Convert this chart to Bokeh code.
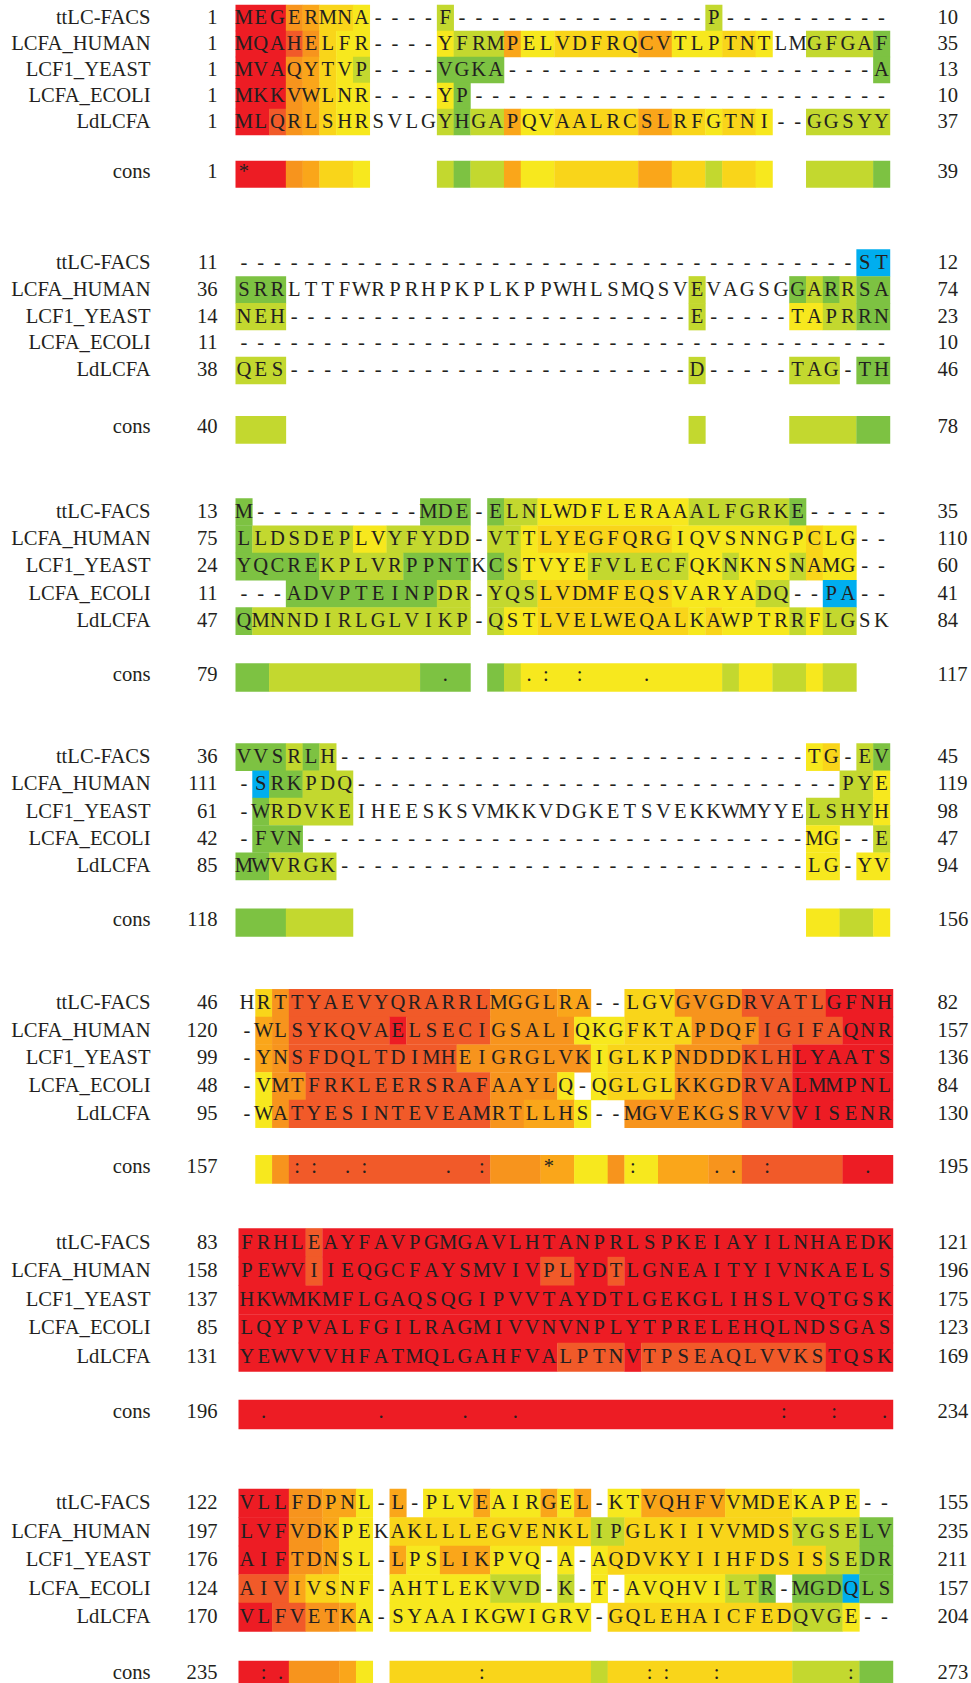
from bokeh.plotting import figure
from bokeh.models import Range1d, ColumnDataSource
from bokeh.core.properties import value
from bokeh.embed import file_html
from bokeh.resources import INLINE

names = ["ttLC-FACS", "LCFA_HUMAN", "LCF1_YEAST", "LCFA_ECOLI", "LdLCFA"]

# ---------------- Block 1 ----------------
b1_seq = [
    "MEGERMNA" + "----" + "F" + "-" * 15 + "P" + "-" * 10,
    "MQAHELFR----YFRMPELVDFRQCVTLPTNTLMGFGAF",
    "MVAQYTVP----VGKA" + "-" * 22 + "A",
    "MKKVWLNR----YP" + "-" * 25,
    "MLQRLSHRSVLGYHGAPQVAALRCSLRFGTNI--GGSYY",
]
b1_col = [
    "99976554" + "...." + "3" + "." * 15 + "3" + "." * 10,
    "99987544" + "...." + "4333" + "6" + "44" + "55555" + "66" + "44" + "4" + "55" + "4" + ".." + "3333" + "2",
    "99976543" + "...." + "2222" + "." * 22 + "2",
    "99976544" + "...." + "42" + "." * 25,
    "99876544" + "...." + "3233" + "6" + "44" + "55555" + "66" + "55" + "4" + "55" + "4" + ".." + "33333",
]
b1_start = [1, 1, 1, 1, 1]
b1_end = [10, 35, 13, 10, 37]
b1_cons_col = "99976554" + "...." + "3233" + "6" + "44" + "55555" + "66" + "55" + "3" + "55" + "4" + ".." + "3333" + "2"
b1_cons_sym = {0: "*"}
b1_cons_num = (1, 39)

# ---------------- Block 2 ----------------
b2_seq = [
    "-" * 37 + "ST",
    "SRRLTTFWRPRHPKPLKPPWHLSMQSVEVAGSGGARRSA",
    "NEH" + "-" * 24 + "E" + "-" * 5 + "TAPRRN",
    "-" * 39,
    "QES" + "-" * 24 + "D" + "-" * 5 + "TAG-TH",
]
b2_col = [
    "." * 37 + "11",
    "222" + "." * 24 + "3" + "." * 5 + "2" + "3" + "2" + "3" + "22",
    "333" + "." * 24 + "3" + "." * 5 + "443322",
    "." * 39,
    "333" + "." * 24 + "3" + "." * 5 + "333.22",
]
b2_start = [11, 36, 14, 11, 38]
b2_end = [12, 74, 23, 10, 46]
b2_cons_col = "333" + "." * 24 + "3" + "." * 5 + "3333" + "22"
b2_cons_sym = {}
b2_cons_num = (40, 78)

# ---------------- Block 3 ----------------
b3_seq = [
    "M" + "-" * 10 + "MDE" + "-" + "ELNLWDFLERAAALFGRKE" + "-" * 5,
    "LLDSDEPLVYFYDD-VTTLYEGFQRGIQVSNNGPCLG--",
    "YQCREKPLVRPPNTKCSTVYEFVLECFQKNKNSNAMG--",
    "---ADVPTEINPDR-YQSLVDMFEQSVARYADQ--PA--",
    "QMNNDIRLGLVIKP-QSTLVELWEQALKAWPTRRFLGSK",
]
b3_col = [
    "2" + "." * 10 + "222" + "." + "2" + "33" + "4" * 9 + "3" * 6 + "2" + "." * 5,
    "2" + "333333" + "44" + "33333" + "." + "33" + "4" + "5" * 8 + "4" * 8 + "5" + "44" + "..",
    "22222" + "33333" + "2222" + "." + "2" + "3" + "4444" + "333333" + "44" + "3" + "444" + "3" + "5" + "44" + "..",
    "..." + "2" * 9 + "33" + "." + "333" + "5" * 8 + "4444" + "433" + ".." + "11" + "..",
    "2" + "3" * 13 + "." + "3" + "44" + "5" * 9 + "4" + "5" + "4444" + "3" + "4" + "33" + "..",
]
b3_start = [13, 75, 24, 11, 47]
b3_end = [35, 110, 60, 41, 84]
b3_cons_col = "22" + "3" * 9 + "222" + "." + "2" + "3" + "4" * 12 + "3" + "44" + "33" + "4" + "33" + ".."
b3_cons_sym = {12: ".", 17: ".", 18: ":", 20: ":", 24: "."}
b3_cons_num = (79, 117)

# ---------------- Block 4 ----------------
b4_seq = [
    "VVSRLH" + "-" * 28 + "TG-EV",
    "-SRKPDQ" + "-" * 29 + "PYE",
    "-WRDVKEIHEESKSVMKKVDGKETSVEKKWMYYELSHYH",
    "-FVN" + "-" * 30 + "MG--E",
    "MWVRGK" + "-" * 28 + "LG-YV",
]
b4_col = [
    "222323" + "." * 28 + "45" + "." + "32",
    "." + "1" + "22" + "333" + "." * 29 + "33" + "4",
    "." + "2" + "33333" + "." * 27 + "3333" + "4",
    "." + "222" + "." * 30 + "44" + ".." + "3",
    "22" + "3333" + "." * 28 + "44" + "." + "44",
]
b4_start = [36, 111, 61, 42, 85]
b4_end = [45, 119, 98, 47, 94]
b4_cons_col = "222" + "3333" + "." * 27 + "44" + "33" + "4"
b4_cons_sym = {}
b4_cons_num = (118, 156)

# ---------------- Block 5 ----------------
b5_seq = [
    "HRTTYAEVYQRARRLMGGLRA--LGVGVGDRVATLGFNH",
    "-WLSYKQVAELSECIGSALIQKGFKTAPDQFIGIFAQNR",
    "-YNSFDQLTDIMHEIGRGLVKIGLKPNDDDKLHLYAATS",
    "-VMTFRKLEERSRAFAAYLQ-QGLGLKKGDRVALMMPNL",
    "-WATYESINTEVEAMRTLLHS--MGVEKGSRVVVISENR",
]
b5_col = [
    "." + "5" + "7" + "8" * 12 + "7777" + "66" + ".." + "555" + "7777" + "88888" + "9999",
    "." + "67" + "888888" + "9" + "88888" + "77777" + "444" + "5555" + "7777" + "88888" + "999",
    "." + "6" + "7" + "8" * 10 + "77" + "777777" + "4" + "5555" + "7777" + "888" + "999999",
    "." + "4" + "77" + "8" * 11 + "7777" + "4" + "." + "45" + "555" + "7777" + "888" + "999999",
    "." + "4" + "7" + "8" * 12 + "77" + "666" + "4" + ".." + "7777777" + "888" + "999999",
]
b5_start = [46, 120, 99, 48, 95]
b5_end = [82, 157, 136, 84, 130]
b5_cons_col = "." + "4" + "7" + "8" * 12 + "777" + "66" + "44" + "7" + "44" + "666" + "77" + "888888" + "999"
b5_cons_sym = {3: ":", 4: ":", 6: ".", 7: ":", 12: ".", 14: ":", 18: "*", 23: ":",
               28: ".", 29: ".", 31: ":", 37: "."}
b5_cons_num = (157, 195)

# ---------------- Block 6 ----------------
b6_seq = [
    "FRHLEAYFAVPGMGAVLHTANPRLSPKEIAYILNHAEDK",
    "PEWVIIEQGCFAYSMVIVPLYDTLGNEAITYIVNKAELS",
    "HKWMKMFLGAQSQGIPVVTAYDTLGEKGLIHSLVQTGSK",
    "LQYPVALFGILRAGMIVVNVNPLYTPRELEHQLNDSGAS",
    "YEWVVVHFATMQLGAHFVALPTNVTPSEAQLVVKSTQSK",
]
b6_col = [
    "9999" + "8" + "9" * 34,
    "9999" + "8" + "9" * 13 + "88" + "99" + "8" + "9" * 16,
    "9" * 39,
    "9" * 39,
    "9" * 19 + "8888" + "9" + "8" * 11 + "9999",
]
b6_start = [83, 158, 137, 85, 131]
b6_end = [121, 196, 175, 123, 169]
b6_cons_col = "9" * 39
b6_cons_sym = {1: ".", 8: ".", 13: ".", 16: ".", 32: ":", 35: ":", 38: "."}
b6_cons_num = (196, 234)

# ---------------- Block 7 ----------------
b7_seq = [
    "VLLFDPNL-L-PLVEAIRGEL-KTVQHFVVMDEKAPE--",
    "LVFVDKPEKAKLLLEGVENKLIPGLKIIVVMDSYGSELV",
    "AIFTDNSL-LPSLIKPVQ-A-AQDVKYIIHFDSISSEDR",
    "AIVIVSNF-AHTLEKVVD-K-T-AVQHVILTR-MGDQLS",
    "VLFVETKA-SYAAIKGWIGRV-GQLEHAICFEDQVGE--",
]
b7_col = [
    "999" + "77" + "6" + "64" + "." + "6" + "." + "444" + "6" + "444" + "6" + "4" + "6" + "." + "44" + "66666" + "5555" + "4444" + "..",
    "999" + "77" + "6" + "44" + "." + "5" * 12 + "33" + "5" * 10 + "3333" + "22",
    "999" + "77" + "6" + "44" + "." + "6" + "44" + "666" + "444" + "." + "4" + "." + "4" + "5" * 7 + "5555" + "55" + "33" + "22",
    "888" + "6" + "55" + "44" + "." + "444444" + "333" + "." + "3" + "." + "4" + "." + "444444" + "33" + "2" + "." + "222" + "1" + "22",
    "99" + "88" + "77" + "6" + "4" + "." + "4" * 12 + "." + "5" * 11 + "333" + "4" + "..",
]
b7_start = [122, 197, 176, 124, 170]
b7_end = [155, 235, 211, 157, 204]
b7_cons_col = "999" + "777" + "6" + "4" + "." + "5" * 12 + "3" + "5" * 11 + "3333" + "22"
b7_cons_sym = {1: ":", 2: ".", 14: ":", 24: ":", 25: ":", 28: ":", 36: ":"}
b7_cons_num = (235, 273)

blocks = [
    (b1_seq, b1_col, b1_start, b1_end, b1_cons_col, b1_cons_sym, b1_cons_num),
    (b2_seq, b2_col, b2_start, b2_end, b2_cons_col, b2_cons_sym, b2_cons_num),
    (b3_seq, b3_col, b3_start, b3_end, b3_cons_col, b3_cons_sym, b3_cons_num),
    (b4_seq, b4_col, b4_start, b4_end, b4_cons_col, b4_cons_sym, b4_cons_num),
    (b5_seq, b5_col, b5_start, b5_end, b5_cons_col, b5_cons_sym, b5_cons_num),
    (b6_seq, b6_col, b6_start, b6_end, b6_cons_col, b6_cons_sym, b6_cons_num),
    (b7_seq, b7_col, b7_start, b7_end, b7_cons_col, b7_cons_sym, b7_cons_num),
]

PAL = {"9": "#ED1C24", "8": "#F15A29", "7": "#F7941D", "6": "#FAA61A",
       "5": "#F9D51A", "4": "#F7E81E", "3": "#C3D82F", "2": "#7DC242", "1": "#00AEEF"}
TXT = "#231F20"

# layout: (x0 of first column, caps-centre of first row, row pitch, cons-row centre)
LAYOUT = [
    (235.0, 16.5, 26.0, 171.7),
    (235.0, 261.4, 26.9, 427.4),
    (235.0, 510.5, 27.3, 675.0),
    (235.0, 755.6, 27.3, 920.1),
    (238.0, 1001.6, 27.7, 1166.9),
    (238.0, 1241.2, 28.65, 1412.0),
    (238.0, 1501.7, 28.5, 1673.0),
]
CW = 16.78
NAME_X = 150.0
START_X = 217.0
END_X = 937.0
FS = "20.6px"
FONT = value("Liberation Serif")
TEXT_DY = -7.0   # measured correction between requested and rendered text baseline


def runs(s):
    out, i = [], 0
    while i < len(s):
        j = i
        while j < len(s) and s[j] == s[i]:
            j += 1
        if s[i] != ".":
            out.append((i, j, s[i]))
        i = j
    return out


quad = dict(left=[], right=[], top=[], bottom=[], color=[])
seqtxt = dict(x=[], y=[], t=[])
lab = dict(x=[], y=[], t=[])
num_r = dict(x=[], y=[], t=[])
num_l = dict(x=[], y=[], t=[])

for (seqs, cols, starts, ends, ccol, csym, cnum), (x0, c0, rh, cc) in zip(blocks, LAYOUT):
    for r in range(5):
        s, c = seqs[r], cols[r]
        if len(s) != 39 or len(c) != 39:
            raise ValueError("bad length %r %d %d" % (s, len(s), len(c)))
        yc = c0 + r * rh
        base = yc + 6.8 + TEXT_DY
        bgc = yc + 1.0
        for i, j, k in runs(c):
            quad["left"].append(x0 + i * CW)
            quad["right"].append(x0 + j * CW + 0.3)
            quad["top"].append(bgc - rh / 2 - 0.2)
            quad["bottom"].append(bgc + rh / 2 + 0.2)
            quad["color"].append(PAL[k])
        for i, ch in enumerate(s):
            seqtxt["x"].append(x0 + (i + 0.5) * CW)
            seqtxt["y"].append(base)
            seqtxt["t"].append(ch)
        lab["x"].append(NAME_X); lab["y"].append(base); lab["t"].append(names[r])
        num_r["x"].append(START_X); num_r["y"].append(base); num_r["t"].append(str(starts[r]))
        num_l["x"].append(END_X); num_l["y"].append(base); num_l["t"].append(str(ends[r]))
    # consensus row
    if len(ccol) != 39:
        raise ValueError("bad cons length")
    bar_c = cc + 2.0
    base = cc + 5.5 + TEXT_DY
    for i, j, k in runs(ccol):
        quad["left"].append(x0 + i * CW)
        quad["right"].append(x0 + j * CW + 0.3)
        quad["top"].append(bar_c - (rh + 1) / 2)
        quad["bottom"].append(bar_c + (rh + 1) / 2)
        quad["color"].append(PAL[k])
    for i, ch in csym.items():
        seqtxt["x"].append(x0 + (i + 0.5) * CW)
        seqtxt["y"].append(base)
        seqtxt["t"].append(ch)
    lab["x"].append(NAME_X); lab["y"].append(base); lab["t"].append("cons")
    num_r["x"].append(START_X); num_r["y"].append(base); num_r["t"].append(str(cnum[0]))
    num_l["x"].append(END_X); num_l["y"].append(base); num_l["t"].append(str(cnum[1]))

W, H = 971, 1683
p = figure(width=W, height=H, x_range=Range1d(0, W), y_range=Range1d(H, 0),
           toolbar_location=None, output_backend="svg", x_axis_location=None,
           y_axis_location=None, min_border=0)
p.grid.visible = False
p.outline_line_color = None
p.background_fill_color = "white"
p.border_fill_color = "white"

p.quad(left="left", right="right", top="top", bottom="bottom", fill_color="color",
       line_color=None, source=ColumnDataSource(quad))
p.text(x="x", y="y", text="t", source=ColumnDataSource(seqtxt), text_font=FONT,
       text_font_size=FS, text_align="center", text_baseline="alphabetic", text_color=TXT)
p.text(x="x", y="y", text="t", source=ColumnDataSource(lab), text_font=FONT,
       text_font_size=FS, text_align="right", text_baseline="alphabetic", text_color=TXT)
p.text(x="x", y="y", text="t", source=ColumnDataSource(num_r), text_font=FONT,
       text_font_size=FS, text_align="right", text_baseline="alphabetic", text_color=TXT)
p.text(x="x", y="y", text="t", source=ColumnDataSource(num_l), text_font=FONT,
       text_font_size=FS, text_align="left", text_baseline="alphabetic", text_color=TXT)

open("out.html", "w").write(file_html(p, INLINE))
